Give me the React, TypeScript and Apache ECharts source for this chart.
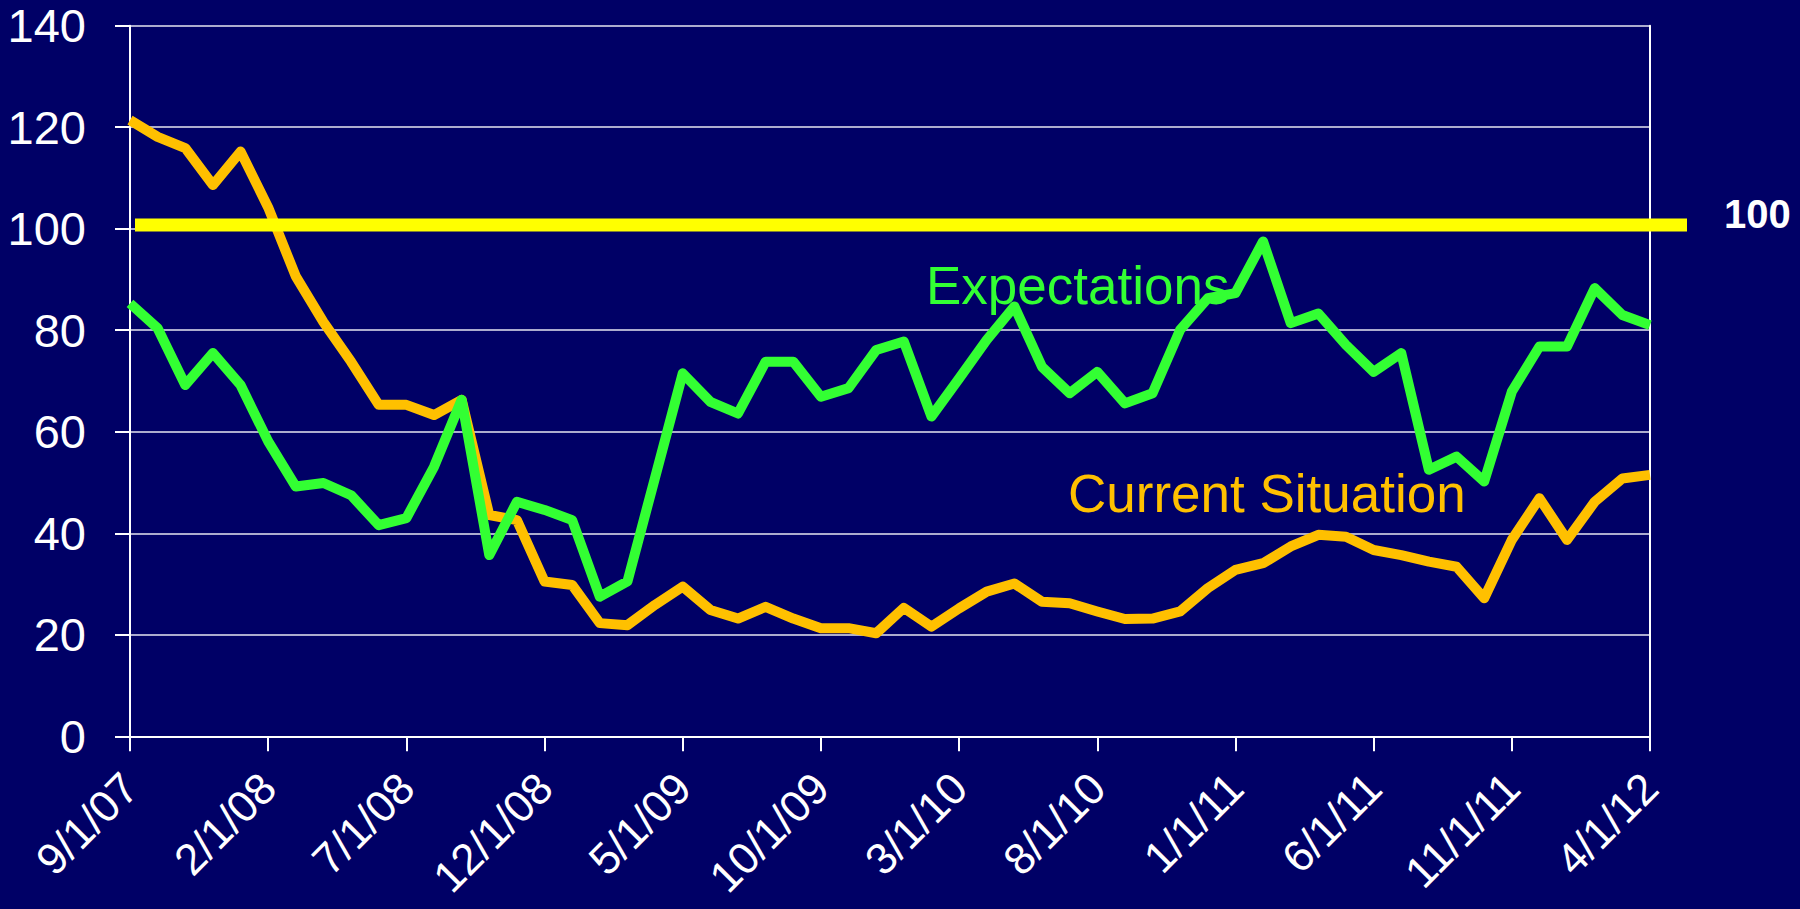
import React, { useEffect, useRef } from "react";
import * as echarts from "echarts";

const dates: string[] = [
  "9/1/07", "10/1/07", "11/1/07", "12/1/07",
  "1/1/08", "2/1/08", "3/1/08", "4/1/08", "5/1/08", "6/1/08", "7/1/08", "8/1/08", "9/1/08", "10/1/08", "11/1/08", "12/1/08",
  "1/1/09", "2/1/09", "3/1/09", "4/1/09", "5/1/09", "6/1/09", "7/1/09", "8/1/09", "9/1/09", "10/1/09", "11/1/09", "12/1/09",
  "1/1/10", "2/1/10", "3/1/10", "4/1/10", "5/1/10", "6/1/10", "7/1/10", "8/1/10", "9/1/10", "10/1/10", "11/1/10", "12/1/10",
  "1/1/11", "2/1/11", "3/1/11", "4/1/11", "5/1/11", "6/1/11", "7/1/11", "8/1/11", "9/1/11", "10/1/11", "11/1/11", "12/1/11",
  "1/1/12", "2/1/12", "3/1/12", "4/1/12",
];

const currentSituation: number[] = [
  121.4, 118.1, 115.9, 108.6, 115.2, 104.2, 90.6, 81.6, 73.8, 65.3,
  65.3, 63.3, 66.3, 43.6, 42.6, 30.5, 29.8, 22.3, 21.9, 25.9,
  29.5, 24.9, 23.2, 25.5, 23.2, 21.3, 21.3, 20.3, 25.3, 21.6,
  25.2, 28.5, 30.1, 26.5, 26.2, 24.6, 23.1, 23.2, 24.6, 29.2,
  32.8, 34.1, 37.4, 39.7, 39.3, 36.7, 35.7, 34.4, 33.4, 27.2,
  38.7, 46.9, 38.7, 46.2, 50.8, 51.5,
];

const expectations: number[] = [
  85.3, 80.4, 69.2, 75.5, 69.2, 58.1, 49.2, 49.9, 47.5, 41.6,
  43.0, 53.1, 66.3, 35.7, 46.2, 44.6, 42.6, 27.5, 30.5, 51.0,
  71.5, 65.9, 63.6, 73.8, 73.8, 66.9, 68.6, 76.1, 77.8, 63.0,
  70.5, 78.1, 84.7, 72.8, 67.6, 71.8, 65.6, 67.6, 80.1, 86.3,
  87.3, 97.5, 81.4, 83.3, 77.1, 71.8, 75.5, 52.5, 55.1, 50.2,
  67.9, 76.8, 76.8, 88.3, 83.0, 81.0,
];

// benchmark line (drawn slightly above the 100 gridline in the source)
const benchmarkValue = 100.75;
const benchmarkLabel = "100";
const seriesNames = ["Current Situation", "Expectations"];

const FONT = "Liberation Sans";
const BG = "#000066";
const ORANGE = "#FFC000";
const GREEN = "#33FF33";
const YELLOW = "#FFFF00";

export default function App() {
  const ref = useRef<HTMLDivElement>(null);
  useEffect(() => {
    document.body.style.margin = "0";
    document.body.style.background = BG;
    const chart = echarts.init(ref.current!, null, { renderer: "svg" });
    const axisLineStyle = { color: "#FFFFFF", width: 2 };
    const option: any = {
      animation: false,
      backgroundColor: BG,
      grid: [
        { left: 130, right: 150, top: 25.7, bottom: 172.7, containLabel: false, outerBoundsMode: "none" },
        { left: 135, right: 113, top: 25.7, bottom: 172.7, containLabel: false, outerBoundsMode: "none" },
      ],
      xAxis: [
        {
          type: "category",
          gridIndex: 0,
          data: dates,
          boundaryGap: false,
          axisLine: { show: true, lineStyle: axisLineStyle },
          axisTick: { show: true, interval: 4, length: 15, lineStyle: axisLineStyle },
          axisLabel: {
            interval: 4,
            rotate: 45,
            color: "#FFFFFF",
            fontSize: 44,
            fontFamily: FONT,
            margin: 44,
            align: "right",
            verticalAlign: "middle",
          },
          splitLine: { show: false },
        },
        { type: "value", gridIndex: 1, min: 0, max: 1, show: false },
      ],
      yAxis: [
        {
          type: "value",
          gridIndex: 0,
          min: 0,
          max: 140,
          interval: 20,
          axisLine: { show: true, lineStyle: axisLineStyle },
          axisTick: { show: true, length: 15, lineStyle: axisLineStyle },
          axisLabel: { color: "#FFFFFF", fontSize: 47, fontFamily: FONT, margin: 44 },
          splitLine: { show: true, lineStyle: { color: "#E6E6F2", width: 1.5 } },
        },
        {
          type: "value",
          gridIndex: 0,
          position: "right",
          min: 0,
          max: 140,
          interval: 20,
          axisLine: { show: true, lineStyle: axisLineStyle },
          axisTick: { show: false },
          axisLabel: { show: false },
          splitLine: { show: false },
        },
        { type: "value", gridIndex: 1, min: 0, max: 140, show: false },
      ],
      series: [
        {
          name: seriesNames[0],
          type: "line",
          xAxisIndex: 0,
          yAxisIndex: 0,
          data: currentSituation,
          symbol: "none",
          lineStyle: { color: ORANGE, width: 10, join: "round", cap: "butt" },
          z: 3,
        },
        {
          name: seriesNames[1],
          type: "line",
          xAxisIndex: 0,
          yAxisIndex: 0,
          data: expectations,
          symbol: "none",
          lineStyle: { color: GREEN, width: 10, join: "round", cap: "butt" },
          z: 4,
        },
        {
          name: "benchmark",
          type: "line",
          xAxisIndex: 1,
          yAxisIndex: 2,
          data: [[0, benchmarkValue], [1, benchmarkValue]],
          symbol: "none",
          lineStyle: { color: YELLOW, width: 13, cap: "butt" },
          z: 5,
        },
      ],
      graphic: [
        {
          type: "text",
          x: 926,
          y: 285,
          z: 10,
          style: {
            text: seriesNames[1],
            fill: GREEN,
            font: `53px "${FONT}"`,
            align: "left",
            verticalAlign: "middle",
          },
        },
        {
          type: "text",
          x: 1068,
          y: 493,
          z: 10,
          style: {
            text: seriesNames[0],
            fill: ORANGE,
            font: `53px "${FONT}"`,
            align: "left",
            verticalAlign: "middle",
          },
        },
        {
          type: "text",
          x: 1724,
          y: 214,
          z: 10,
          style: {
            text: benchmarkLabel,
            fill: "#FFFFFF",
            font: `bold 40px "${FONT}"`,
            align: "left",
            verticalAlign: "middle",
          },
        },
      ],
    };
    chart.setOption(option);
    return () => chart.dispose();
  }, []);
  return <div ref={ref} style={{ width: 1800, height: 909 }} />;
}
